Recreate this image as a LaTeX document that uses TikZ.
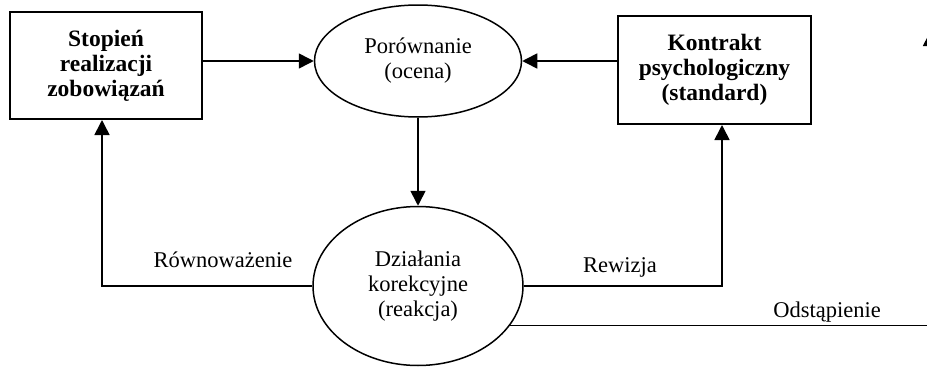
\documentclass[tikz,border=0pt]{standalone}
\usepackage{fontspec}
\setmainfont{Liberation Serif}
\usetikzlibrary{shapes.geometric,arrows.meta}

\tikzset{
  every node/.style={font=\fontsize{22.5}{25}\selectfont},
  procbox/.style={draw, line width=2pt, rectangle, align=center,
    font=\fontsize{23.5}{25}\selectfont\bfseries},
  procoval/.style={draw, line width=1.5pt, ellipse, align=center, inner sep=0pt},
  flow/.style={line width=1.6pt, -{Triangle[length=15pt,width=15pt]}},
  lbl/.style={inner sep=0pt}
}

\begin{document}
\begin{tikzpicture}[x=1pt,y=-1pt]
  \useasboundingbox (0,0) rectangle (927,367);

  % main blocks
  \node[procbox, minimum width=192pt, minimum height=107pt] (stop) at (106,65.5)
    {Stopień\\realizacji\\zobowiązań};
  \node[procoval, minimum width=207pt, minimum height=112pt] (por) at (418,61)
    {Porównanie\\(ocena)};
  \node[procbox, minimum width=193pt, minimum height=108pt] (kon) at (714.5,70)
    {Kontrakt\\psychologiczny\\(standard)};
  \node[procoval, minimum width=210pt, minimum height=159pt] (dz) at (418,286)
    {Działania\\korekcyjne\\(reakcja)};

  % free end of the withdrawal path
  \coordinate (odsC) at (930.5,325.5);
  \coordinate (odsT) at (930.5,31);

  % connectors
  \draw[flow] (stop.east |- por.west) -- (por.west);
  \draw[flow] (kon.west |- por.east) -- (por.east);
  \draw[flow] (por.south) -- (dz.north);
  \draw[flow] (dz.west) -| ([xshift=-4pt]stop.south);
  \draw[flow] (dz.east) -| ([xshift=7.5pt]kon.south);
  \draw[flow] (dz.-24 |- odsC) -- (odsC) -- (odsT);

  % connector labels
  \node[lbl] (lrow) at (223,260) {Równoważenie};
  \node[lbl] (lrew) at (620,267) {Rewizja};
  \node[lbl] (lods) at (827,312) {Odstąpienie};
\end{tikzpicture}
\end{document}
